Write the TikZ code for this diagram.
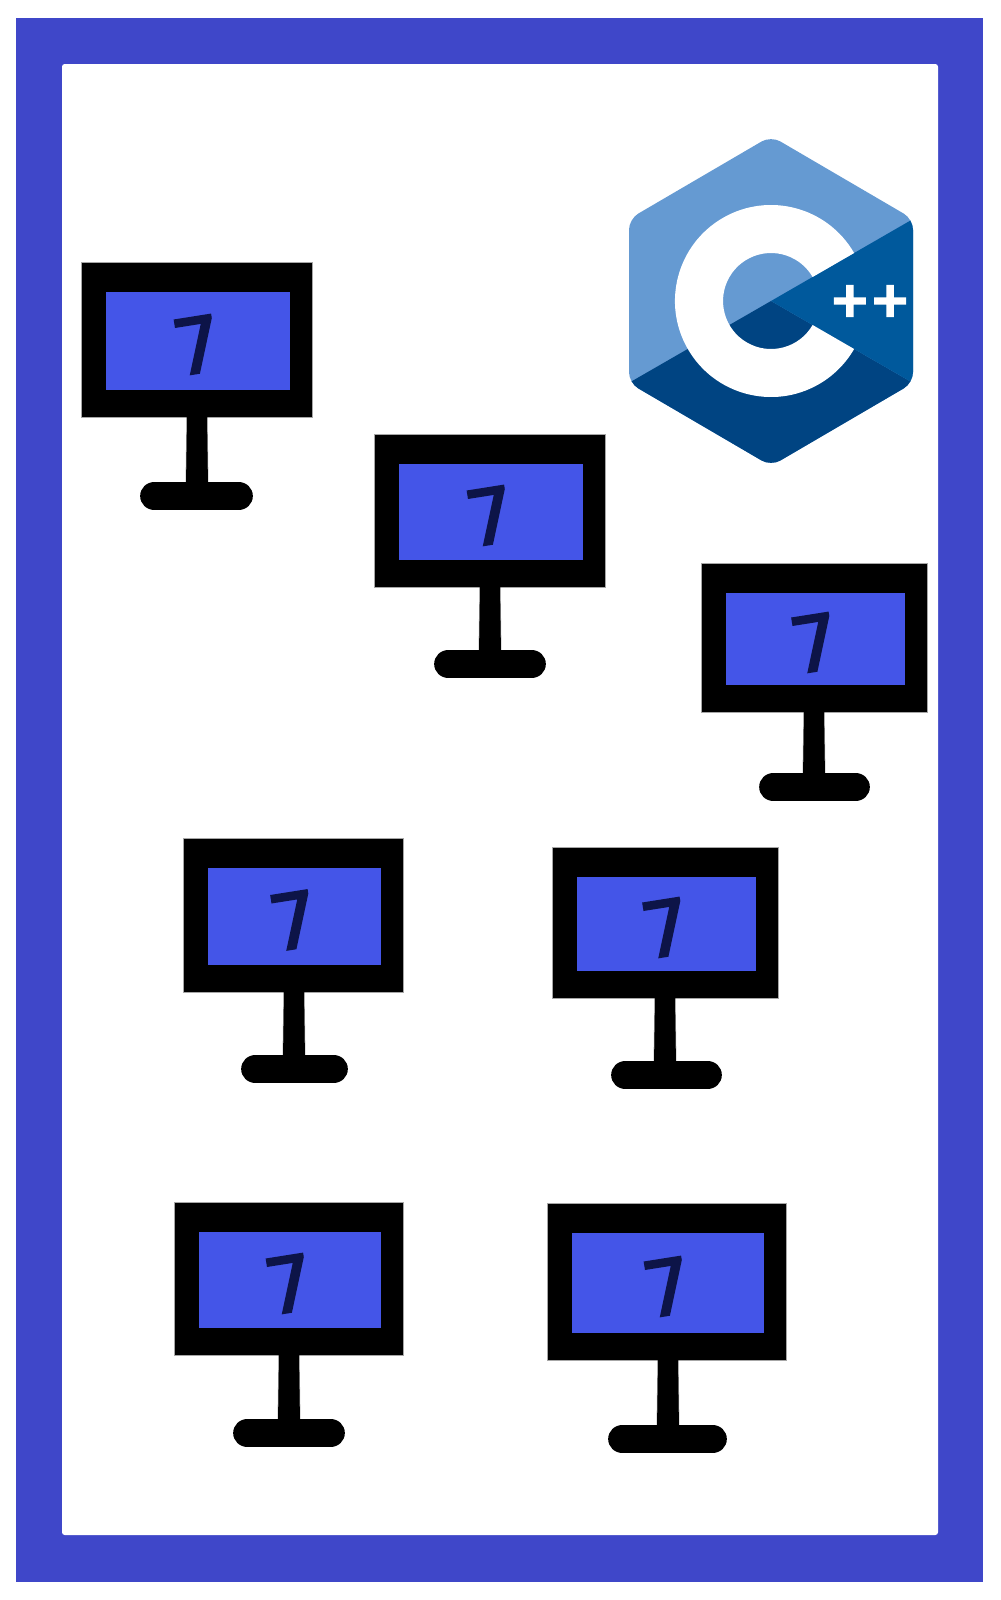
\documentclass[tikz,border=0pt]{standalone}
\usepackage{fontspec}
\setmainfont{Liberation Sans}
\newfontfamily\plusfont{DejaVu Sans Bold}[FakeBold=4]
\newfontfamily\digitfont{DejaVu Sans}[FakeBold=3]
\definecolor{framecol}{HTML}{3F47C9}
\definecolor{screencol}{HTML}{4455E8}
\definecolor{digitcol}{HTML}{0D1448}
\definecolor{cpplight}{HTML}{659AD2}
\definecolor{cppmid}{HTML}{00599C}
\definecolor{cppdark}{HTML}{004482}
\tikzset{
  digitnode/.style={text=digitcol,inner sep=0pt,font=\digitfont\fontsize{57pt}{57pt}\selectfont,rotate=9},
  softedge/.style={fill=black,draw=black,draw opacity=.35,line width=0.8pt},
  baseline shape/.style={draw=black,line width=21.5pt,line cap=round},
}
% #1 name, #2 left, #3 top, #4 right, #5 bottom, #6 stand x, #7 base left, #8 base right, #9 base top
\newcommand\monitorpic[9]{
  \draw[softedge] ({#6-10},#5) -- ({#6+10},#5) -- ({#6+11},{#9+6}) -- ({#6-11},{#9+6}) -- cycle;
  \draw[baseline shape] ({#7+14.5},{#9+15}) -- ({#8-14.5},{#9+15});
  \draw[softedge] (#2,#3) rectangle (#4,#5);
  \fill[screencol] ({#2+23.5},{#3+29}) rectangle ({#4-22.5},{#5-27});
  \node[digitnode] (#1) at ({(#2+#4)/2},{(#3+#5)/2+5}) {7};
}
\begin{document}
\begin{tikzpicture}[x=0.75pt,y=-0.75pt]
\useasboundingbox (0,0) rectangle (1000,1600);
% frame
\fill[framecol] (16,18) rectangle (983,1582);
\fill[white,rounded corners=2pt] (62,64) rectangle (938,1535);
% monitors
\monitorpic{m1}{82}{263}{312}{417}{197}{140}{253}{481}
\monitorpic{m2}{375}{435}{605}{587}{490}{434}{546}{649}
\monitorpic{m3}{702}{564}{927}{712}{814}{759}{870}{772}
\monitorpic{m4}{184}{839}{403}{992}{294}{241}{348}{1054}
\monitorpic{m5}{553}{848}{778}{998}{665}{611}{722}{1060}
\monitorpic{m6}{175}{1203}{403}{1355}{289}{233}{345}{1418}
\monitorpic{m7}{548}{1204}{786}{1360}{668}{608}{727}{1424}
% C++ logo
\begin{scope}
  \path[clip,rounded corners=8pt] (771,136) -- (913,219) -- (913,383) -- (771,466) -- (629,383) -- (629,219) -- cycle;
  \fill[cpplight] (620,130) rectangle (920,470);
  \fill[cppdark] (771,301) -- (620,388) -- (620,470) -- (920,470) -- (920,387) -- cycle;
  \fill[cppmid] (771,301) -- (920,215) -- (920,387) -- cycle;
\end{scope}
\fill[white] (854.1,253) arc[start angle=30,end angle=330,radius=72pt]
  -- (812.6,325) arc[start angle=330,end angle=30,radius=36pt] -- cycle;
\node[text=white,inner sep=0pt,font=\plusfont\fontsize{36pt}{36pt}\selectfont] (plus) at (870,301) {++};
\end{tikzpicture}
\end{document}
